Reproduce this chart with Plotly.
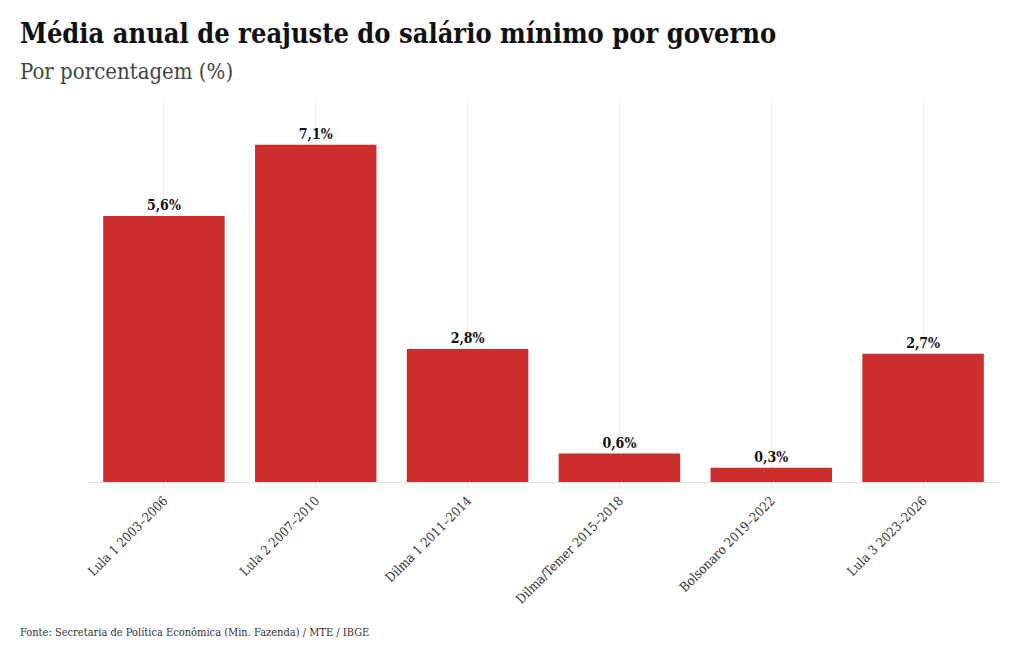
import plotly.graph_objects as go

categories = ["Lula 1 2003–2006", "Lula 2 2007–2010", "Dilma 1 2011–2014",
              "Dilma/Temer 2015–2018", "Bolsonaro 2019–2022", "Lula 3 2023–2026"]
values = [5.6, 7.1, 2.8, 0.6, 0.3, 2.7]
labels = ["5,6%", "7,1%", "2,8%", "0,6%", "0,3%", "2,7%"]

FONT = "DejaVu Serif Condensed"

L, T, PW, PH = 80, 94, 911, 380

fig = go.Figure(go.Bar(
    x=categories, y=values, text=labels, textposition="outside",
    marker=dict(color="#cc2e2e", line=dict(width=0)),
    textfont=dict(family=FONT, size=14, color="#111"),
    texttemplate="<b>%{text}</b>", cliponaxis=False,
))

fig.update_layout(
    width=1020, height=650,
    margin=dict(l=L, r=1020 - L - PW, t=T, b=650 - T - PH, autoexpand=False),
    paper_bgcolor="white", plot_bgcolor="white",
    bargap=0.2, showlegend=False,
    font=dict(family=FONT, color="#333"),
    xaxis=dict(showgrid=True, gridcolor="#ececec", gridwidth=1, automargin=False,
               tickangle=-45, tickfont=dict(family=FONT, size=13, color="#333"),
               ticks="outside", ticklen=5, tickcolor="#e0e0e0",
               showline=True, linecolor="#e0e0e0", linewidth=1),
    yaxis=dict(range=[0, 8], showgrid=False, showticklabels=False, automargin=False,
               zeroline=False, showline=False),
    annotations=[
        dict(text="<b>Média anual de reajuste do salário mínimo por governo</b>",
             xref="paper", yref="paper", x=(10 - L) / PW, y=1 + (T - 25) / PH,
             xanchor="left", yanchor="middle",
             showarrow=False, font=dict(family=FONT, size=27, color="#111")),
        dict(text="Por porcentagem (%)",
             xref="paper", yref="paper", x=(10 - L) / PW, y=1 + (T - 64) / PH,
             xanchor="left", yanchor="middle",
             showarrow=False, font=dict(family=FONT, size=22, color="#444")),
        dict(text="Fonte: Secretaria de Política Econômica (Min. Fazenda) / MTE / IBGE",
             xref="paper", yref="paper", x=(10 - L) / PW, y=-(624 - T - PH) / PH,
             xanchor="left", yanchor="middle",
             showarrow=False, font=dict(family=FONT, size=11, color="#333")),
    ],
)

fig.write_html("out.html")
